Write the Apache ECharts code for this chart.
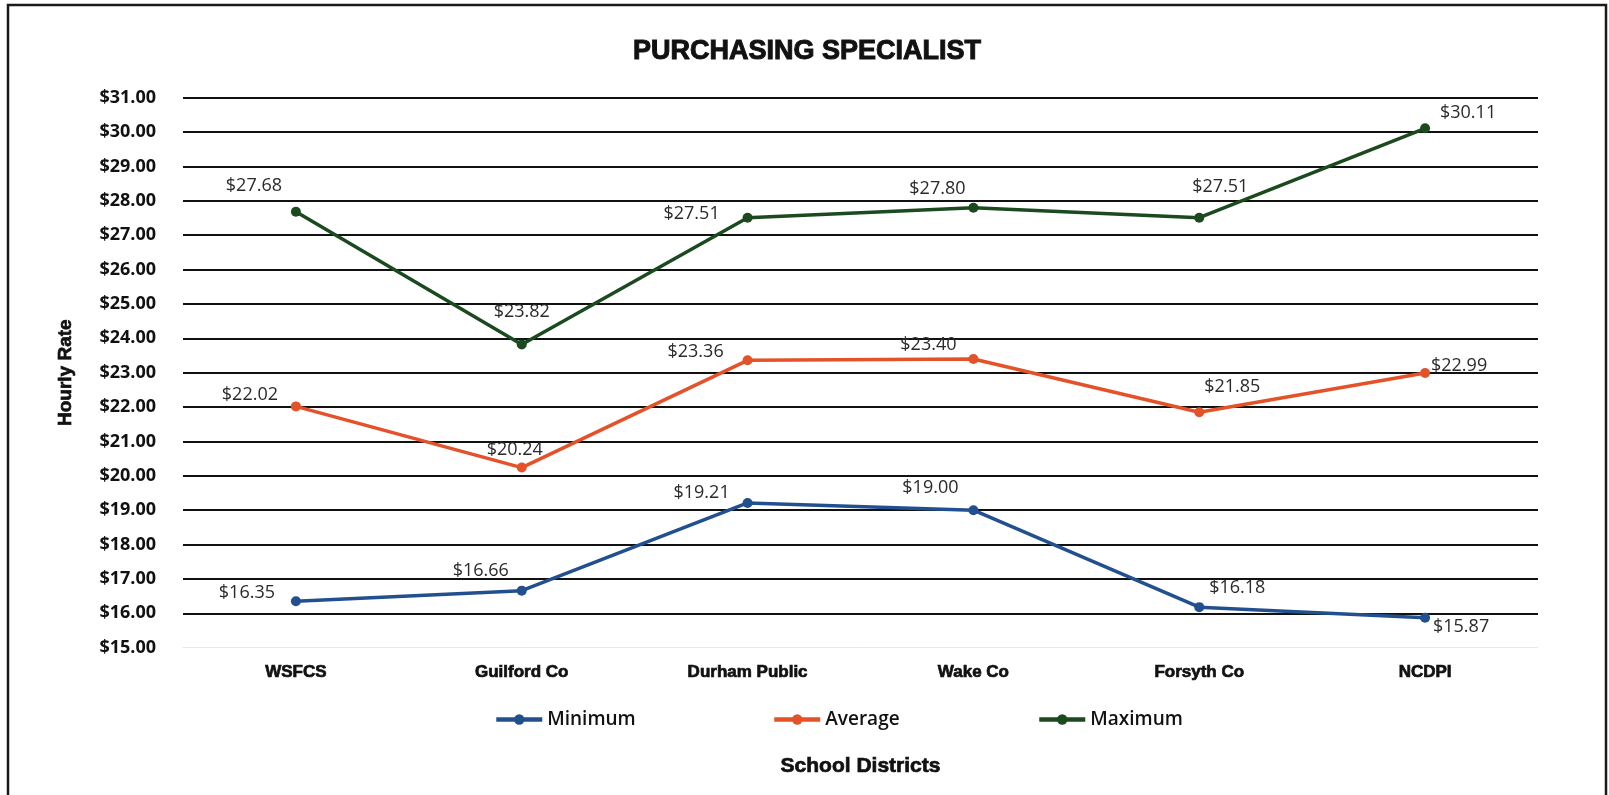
<!DOCTYPE html>
<html>
<head>
<meta charset="utf-8">
<script src="https://cdn.jsdelivr.net/npm/echarts@6/dist/echarts.min.js"></script>
<style>
  html, body { margin: 0; padding: 0; background: #ffffff; }
  #chart { width: 1609px; height: 795px; }
</style>
</head>
<body>
<div id="chart"></div>
<script>
// ---- Data ----
const categories = ['WSFCS', 'Guilford Co', 'Durham Public', 'Wake Co', 'Forsyth Co', 'NCDPI'];
const minimumValues = [16.35, 16.66, 19.21, 19.00, 16.18, 15.87];
const averageValues = [22.02, 20.24, 23.36, 23.40, 21.85, 22.99];
const maximumValues = [27.68, 23.82, 27.51, 27.80, 27.51, 30.11];
const seriesNames = ['Minimum', 'Average', 'Maximum'];
const yMin = 15, yMax = 31, yStep = 1;

// ---- Styling (label placements as offsets around each point) ----
const labelOffsets = {
  Minimum: [[-49, -8], [-41, -20], [-46, -10], [-43, -22], [38, -19], [36, 9]],
  Average: [[-46, -12], [-7, -18], [-52, -8], [-45, -14], [33, -25], [34, -7]],
  Maximum: [[-42, -26], [0, -33], [-56, -4], [-36, -19], [21, -31], [43, -15]]
};
const colors = { Minimum: '#22508f', Average: '#e4522a', Maximum: '#1b4a1f' };

function buildSeries(name, values) {
  return {
    name: name,
    type: 'line',
    data: values.map(function (v, i) {
      return {
        value: v,
        label: { offset: labelOffsets[name][i] }
      };
    }),
    symbol: 'circle',
    symbolSize: 10,
    lineStyle: { width: 3.5, color: colors[name] },
    itemStyle: { color: colors[name] },
    label: {
      show: true,
      position: 'inside',
      align: 'center',
      verticalAlign: 'middle',
      fontFamily: 'Open Sans',
      fontSize: 18,
      color: '#2a2a2a',
      formatter: function (p) { return '$' + p.value.toFixed(2); }
    },
    emphasis: { disabled: true },
    animation: false
  };
}

const chart = echarts.init(document.getElementById('chart'), null, { renderer: 'canvas' });

function legendAt(name, left) {
  return {
    data: [name],
    left: left,
    top: 705,
    itemWidth: 46,
    itemHeight: 13,
    lineStyle: { width: 4.5 },
    textStyle: { fontFamily: 'Open Sans', fontWeight: 600, fontSize: 19, color: '#111111' },
    selectedMode: false
  };
}

const heavy = { textBorderColor: '#111111', textBorderWidth: 0.7 };

const option = {
  backgroundColor: '#ffffff',
  animation: false,
  title: {
    text: 'PURCHASING SPECIALIST',
    left: 802,
    top: 33,
    textAlign: 'center',
    textStyle: Object.assign({ fontFamily: 'Liberation Sans', fontWeight: 'bold', fontSize: 27, color: '#111111' }, { textBorderColor: '#111111', textBorderWidth: 1 })
  },
  legend: [legendAt('Minimum', 489), legendAt('Average', 767), legendAt('Maximum', 1032)],
  grid: { left: 183, right: 71, top: 97.7, bottom: 147.3, containLabel: false },
  xAxis: {
    type: 'category',
    data: categories,
    boundaryGap: true,
    name: 'School Districts',
    nameLocation: 'middle',
    nameGap: 108,
    nameTextStyle: Object.assign({ fontFamily: 'Liberation Sans', fontWeight: 'bold', fontSize: 21, color: '#111111' }, heavy),
    axisLine: { show: true, lineStyle: { color: '#e4e9f0', width: 1 } },
    axisTick: { show: false },
    axisLabel: Object.assign({ margin: 16, fontFamily: 'Liberation Sans', fontWeight: 'bold', fontSize: 17, color: '#111111' }, heavy)
  },
  yAxis: {
    type: 'value',
    min: yMin,
    max: yMax,
    interval: yStep,
    name: 'Hourly Rate',
    nameLocation: 'middle',
    nameRotate: 90,
    nameGap: 108,
    nameTextStyle: Object.assign({ fontFamily: 'Liberation Sans', fontWeight: 'bold', fontSize: 19, color: '#111111' }, heavy),
    axisLine: { show: false },
    axisTick: { show: false },
    axisLabel: {
      margin: 27,
      fontFamily: 'Open Sans',
      fontWeight: 'bold',
      fontSize: 18,
      color: '#111111',
      formatter: function (v) { return '$' + v.toFixed(2); }
    },
    splitLine: { show: true, showMinLine: false, lineStyle: { color: '#111111', width: 2 } }
  },
  graphic: [{
    type: 'rect',
    silent: true,
    shape: { x: 8, y: 5, width: 1598, height: 800 },
    style: { fill: 'none', stroke: '#1a1a1a', lineWidth: 2.5 }
  }],
  series: [
    buildSeries('Minimum', minimumValues),
    buildSeries('Average', averageValues),
    buildSeries('Maximum', maximumValues)
  ]
};

chart.setOption(option);
</script>
</body>
</html>
